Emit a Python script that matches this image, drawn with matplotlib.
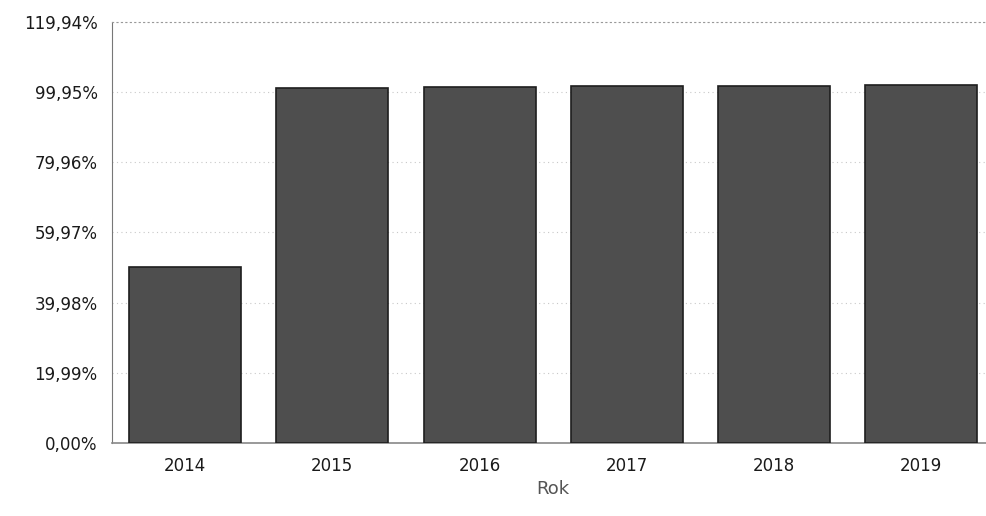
import numpy as np
import matplotlib
matplotlib.use("Agg")
import matplotlib.pyplot as plt
from matplotlib.ticker import FixedLocator, FuncFormatter

# values (percent)
years = ["2014", "2015", "2016", "2017", "2018", "2019"]
share = [50.0, 101.2, 101.4, 101.6, 101.8, 102.0]
y_ticks = [0.0, 19.99, 39.98, 59.97, 79.96, 99.95, 119.94]
x_label = "Rok"


def pct(v, pos=None):
    return ("%.2f%%" % v).replace(".", ",")


plt.rcParams['font.family'] = ['DejaVu Sans']

fig = plt.figure(figsize=(9.87, 5.16), dpi=100)
ax = fig.add_axes([0.113, 0.142, 0.895, 0.815])

x = np.arange(len(years))
ax.bar(x, share, width=0.76, color="#4e4e4e", edgecolor="#1e1e1e",
       linewidth=1.2, zorder=3)

ax.set_xlim(-0.5, len(years) - 0.5)
ax.set_ylim(y_ticks[0], y_ticks[-1])
ax.yaxis.set_major_locator(FixedLocator(y_ticks))
ax.yaxis.set_major_formatter(FuncFormatter(pct))
ax.set_xticks(x)
ax.set_xticklabels(years)

ax.grid(axis="y", linestyle=(0, (1, 3)), color="#c8c8c8", linewidth=0.8, zorder=0)
ax.tick_params(axis="both", length=0, labelsize=12, colors="#1a1a1a")
ax.tick_params(axis="y", pad=10)
ax.tick_params(axis="x", pad=10)

ax.spines["right"].set_visible(False)
ax.spines["top"].set_linestyle((0, (1, 3)))
ax.spines["top"].set_color("#999999")
ax.spines["left"].set_linestyle((0, (1, 1)))
ax.spines["left"].set_color("#777777")
ax.spines["bottom"].set_color("#888888")
ax.spines["bottom"].set_linewidth(1.2)

ax.set_xlabel(x_label, fontsize=13, color="#555555", labelpad=4)

fig.savefig("out.png", dpi=100)
